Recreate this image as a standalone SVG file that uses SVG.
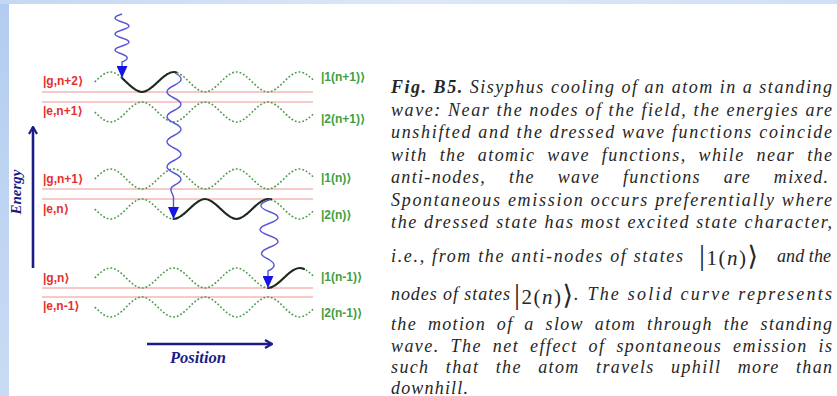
<svg xmlns="http://www.w3.org/2000/svg" xmlns:xlink="http://www.w3.org/1999/xlink" width="837" height="396" viewBox="0 0 837 396">
<style>
.wave{fill:none;stroke:#4f9c4f;stroke-width:1.6;stroke-dasharray:1.8 2}
.lvl{stroke:#f09292;stroke-width:1}
.bare{font-family:"Liberation Sans","DejaVu Sans",sans-serif;font-weight:bold;font-size:12px;fill:#e5302d}
.dressed{font-family:"Liberation Sans","DejaVu Sans",sans-serif;font-weight:bold;font-size:12px;fill:#41a041}
.traj{fill:none;stroke:#1e2a1e;stroke-width:2.1;stroke-linecap:round}
.photon{fill:none;stroke:#5656d6;stroke-width:1.4;marker-end:url(#tri)}
.axis{fill:none;stroke:#1c1c86;stroke-width:2.6;marker-end:url(#chev)}
.axlabel{font-family:"Liberation Serif","DejaVu Serif",serif;font-style:italic;font-weight:bold;fill:#1c1c86}
.cap{font-family:"Liberation Serif","DejaVu Serif",serif;font-style:italic;font-size:18px;fill:#262626}
.math{font-family:"Liberation Serif","DejaVu Serif",serif;fill:#262626}
</style>
<defs>
<linearGradient id="side" x1="0" y1="0" x2="0" y2="1">
<stop offset="0" stop-color="#b3cdf0"/><stop offset="1" stop-color="#c9dbf4"/>
</linearGradient>
<linearGradient id="top" x1="0" y1="0" x2="1" y2="0">
<stop offset="0" stop-color="#c4d8f3"/><stop offset="0.5" stop-color="#dce8f8"/><stop offset="1" stop-color="#cfe0f6"/>
</linearGradient>
<path id="sw" d="M94.75,0 C100.42,-5.655 105.3,-10 110.5,-10 S120.58,-5.655 126.25,0 S136.8,10 142,10 S152.08,5.655 157.75,0 S168.3,-10 173.5,-10 S183.58,-5.655 189.25,0 S199.8,10 205,10 S215.08,5.655 220.75,0 S231.3,-10 236.5,-10 S246.58,-5.655 252.25,0 S262.8,10 268,10 S278.08,5.655 283.75,0 S294.3,-10 299.5,-10 S309.58,-5.655 314.5,-0.8"/>
<marker id="tri" viewBox="0 0 12 11" refX="12" refY="5.5" markerWidth="12" markerHeight="11" markerUnits="userSpaceOnUse" orient="auto">
<path d="M0,0 L12,5.5 L0,11 z" fill="#1515e8"/>
</marker>
<marker id="chev" viewBox="0 0 10 10" refX="9" refY="5" markerWidth="10" markerHeight="10" markerUnits="userSpaceOnUse" orient="auto">
<path d="M2,1 L9,5 L2,9" fill="none" stroke="#1c1c86" stroke-width="2.2"/>
</marker>
</defs>

<g id="background">
<rect x="0" y="0" width="837" height="396" fill="#ffffff"/>
<rect x="0" y="0" width="9" height="396" fill="url(#side)"/>
<rect x="0" y="0" width="837" height="4" fill="url(#top)"/>
</g>

<g id="level-lines">
<line class="lvl" x1="42" y1="92" x2="313" y2="92"/>
<line class="lvl" x1="42" y1="102" x2="313" y2="102"/>
<line class="lvl" x1="42" y1="189" x2="313" y2="189"/>
<line class="lvl" x1="42" y1="199" x2="313" y2="199"/>
<line class="lvl" x1="42" y1="288" x2="313" y2="288"/>
<line class="lvl" x1="42" y1="297" x2="313" y2="297"/>
</g>

<g id="state-1-n1">
<text class="bare" x="43" y="85">|g,n+2⟩</text>
<use xlink:href="#sw" class="wave" transform="translate(0,82)"/>
<text class="dressed" x="321" y="81">|1(n+1)⟩</text>
</g>
<g id="state-2-n1">
<text class="bare" x="43" y="115">|e,n+1⟩</text>
<use xlink:href="#sw" class="wave" transform="translate(0,112) scale(1,-1)"/>
<text class="dressed" x="321" y="123">|2(n+1)⟩</text>
</g>
<g id="state-1-n">
<text class="bare" x="43" y="183">|g,n+1⟩</text>
<use xlink:href="#sw" class="wave" transform="translate(0,179)"/>
<text class="dressed" x="321" y="182">|1(n)⟩</text>
</g>
<g id="state-2-n">
<text class="bare" x="43" y="213">|e,n⟩</text>
<use xlink:href="#sw" class="wave" transform="translate(0,209) scale(1,-1)"/>
<text class="dressed" x="321" y="219">|2(n)⟩</text>
</g>
<g id="state-1-n-1">
<text class="bare" x="43" y="282">|g,n⟩</text>
<use xlink:href="#sw" class="wave" transform="translate(0,278)"/>
<text class="dressed" x="321" y="281">|1(n-1)⟩</text>
</g>
<g id="state-2-n-1">
<text class="bare" x="43" y="310">|e,n-1⟩</text>
<use xlink:href="#sw" class="wave" transform="translate(0,307) scale(1,-1)"/>
<text class="dressed" x="321" y="317">|2(n-1)⟩</text>
</g>

<g id="trajectory">
<path class="traj" d="M122,77.9 Q124.2,80 126.25,82 C131.92,87.655 136.8,92 142,92 S152.08,87.655 157.75,82 S168.3,72 173.5,72 Q175,72 176,72.3"/>
<path class="traj" d="M173.5,219 C178.7,219 183.58,214.655 189.25,209 S199.8,199 205,199 S215.08,203.345 220.75,209 S231.3,219 236.5,219 S246.58,214.655 252.25,209 S262.8,199 268,199 Q270,199 271,199.3"/>
<path class="traj" d="M268,288 C273.2,288 278.08,283.655 283.75,278 S294.3,268 299.5,268 Q302,268 304,269"/>
</g>

<g id="connectors">
<path class="photon" d="M122,14 C112.67,16.88 112.67,19.12 122,22 C131.33,24.88 131.33,27.12 122,30 C112.67,32.88 112.67,35.12 122,38 C131.33,40.88 131.33,43.12 122,46 C112.67,48.88 112.67,51.12 122,54 C129,56.88 129,59.12 122,62 L122,78"/>
<path class="photon" d="M175,73 C183.33,77.5 183.33,81 174,85.5 C164.67,90 164.67,93.5 174,98 C183.33,102.5 183.33,106 174,110.5 C164.67,115 164.67,118.5 174,123 C183.33,127.5 183.33,131 174,135.5 C164.67,140 164.67,143.5 174,148 C183.33,152.5 183.33,156 174,160.5 C164.67,165 164.67,168.5 174,173 C183.33,177.5 183.33,181 174,185.5 C168,188.5 172,192 173.5,197 L173.5,219"/>
<path class="photon" d="M270,199.5 C258,203.8 258,207.2 269,211.5 C281,215.8 281,219.2 269,223.5 C257,227.8 257,231.2 269,235.5 C281,239.8 281,243.2 269,247.5 C259,251.8 259,255.2 269,259.5 C276,263.8 276,267 268,271 L268,288"/>
</g>

<g id="axes">
<line class="axis" x1="33" y1="268" x2="33" y2="127"/>
<text class="axlabel" font-size="15" transform="translate(21,192) rotate(-90)" text-anchor="middle">Energy</text>
<line class="axis" x1="147" y1="344" x2="272" y2="344"/>
<text class="axlabel" font-size="16.5" x="198" y="363" text-anchor="middle">Position</text>
</g>

<g id="caption">
<text class="cap" x="391" y="93" textLength="441" lengthAdjust="spacing"><tspan font-weight="bold">Fig. B5.</tspan> Sisyphus cooling of an atom in a standing</text>
<text class="cap" x="391" y="115.5" textLength="441" lengthAdjust="spacing">wave: Near the nodes of the field, the energies are</text>
<text class="cap" x="391" y="138" textLength="441" lengthAdjust="spacing">unshifted and the dressed wave functions coincide</text>
<text class="cap" x="391" y="160.5" textLength="441" lengthAdjust="spacing" word-spacing="6">with the atomic wave functions, while near the</text>
<text class="cap" x="391" y="183" textLength="437" lengthAdjust="spacing" word-spacing="17">anti-nodes, the wave functions are mixed.</text>
<text class="cap" x="391" y="205.5" textLength="441" lengthAdjust="spacing">Spontaneous emission occurs preferentially where</text>
<text class="cap" x="391" y="228" textLength="441" lengthAdjust="spacing">the dressed state has most excited state character,</text>
<text class="cap" x="391" y="262" textLength="292" lengthAdjust="spacing">i.e., from the anti-nodes of states</text>
<text class="math" x="699" y="265" letter-spacing="1.5"><tspan font-size="30">|</tspan><tspan font-size="21">1(</tspan><tspan font-size="21" font-style="italic">n</tspan><tspan font-size="21">)</tspan><tspan font-size="27" font-family="DejaVu Serif">⟩</tspan></text>
<text class="cap" x="777" y="262" textLength="54" lengthAdjust="spacing">and the</text>
<text class="cap" x="391" y="300" textLength="119" lengthAdjust="spacing">nodes of states</text>
<text class="math" x="514" y="304" letter-spacing="1.5"><tspan font-size="30">|</tspan><tspan font-size="21">2(</tspan><tspan font-size="21" font-style="italic">n</tspan><tspan font-size="21">)</tspan><tspan font-size="27" font-family="DejaVu Serif">⟩</tspan></text>
<text class="cap" x="574" y="300" textLength="258" lengthAdjust="spacing">. The solid curve represents</text>
<text class="cap" x="391" y="330" textLength="441" lengthAdjust="spacing" word-spacing="5">the motion of a slow atom through the standing</text>
<text class="cap" x="391" y="351.5" textLength="441" lengthAdjust="spacing" word-spacing="5">wave. The net effect of spontaneous emission is</text>
<text class="cap" x="391" y="373" textLength="441" lengthAdjust="spacing" word-spacing="10.5">such that the atom travels uphill more than</text>
<text class="cap" x="391" y="393.5" textLength="77" lengthAdjust="spacing">downhill.</text>
</g>
</svg>
